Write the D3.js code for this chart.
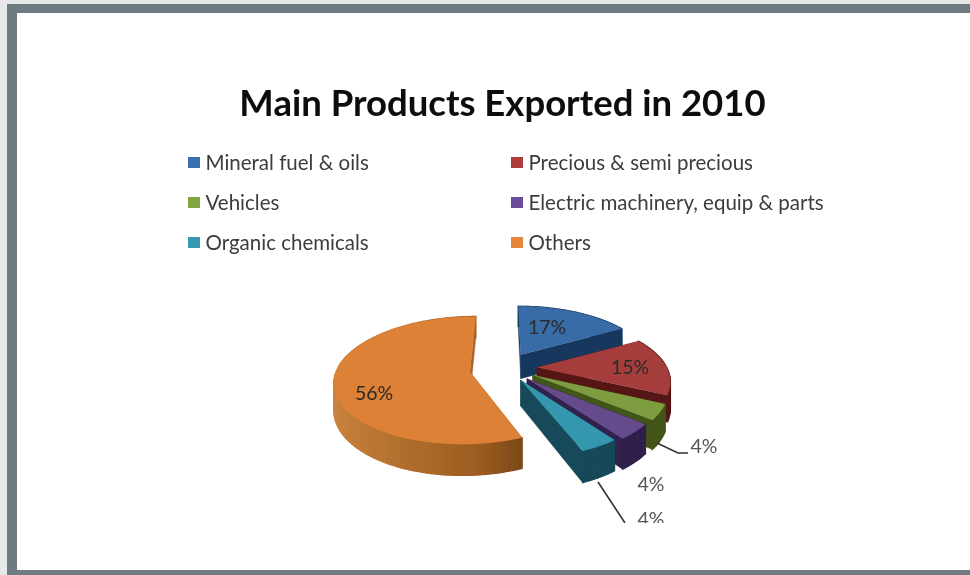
<!DOCTYPE html>
<html><head><meta charset="utf-8">
<script src="https://cdn.jsdelivr.net/npm/d3@7"></script>
<style>html,body{margin:0;padding:0;background:#fff;overflow:hidden}svg{display:block}</style>
</head><body><svg id="c" width="970" height="575"></svg>
<script>
const categories=["Mineral fuel & oils","Precious & semi precious","Vehicles","Electric machinery, equip & parts","Organic chemicals","Others"];
const shares=[17,15,4,4,4,56];
const percentLabels=["17%","15%","4%","4%","4%","56%"];
const topColors=["#386ca6","#a63e3c","#7e9d3f","#654b8b","#3497ad","#dc8135"];
const wallColors=["#17395f","#561414","#43561a","#30204c","#17485a","#a8642a"];
const legendColors=["#3a6fb0","#b03a3a","#83a53f","#6a4c9c","#3599b3","#e5853a"];

const W=970,H=575;
const svg=d3.select("#c");
const defs=svg.append("defs");
defs.append("filter").attr("id","soft").append("feGaussianBlur").attr("stdDeviation",0.6);
defs.append("clipPath").attr("id","crop").append("rect").attr("x",0).attr("y",0).attr("width",W).attr("height",523);

// frame
svg.append("rect").attr("width",W).attr("height",H).attr("fill","#e6e8ea");
svg.append("rect").attr("x",7).attr("y",4).attr("width",W-7).attr("height",H-4).attr("fill","#6e7b83");
svg.append("rect").attr("x",17).attr("y",13).attr("width",W-17).attr("height",557).attr("fill","#fff");

const root=svg.append("g").attr("filter","url(#soft)");
const font="Lato, 'Open Sans', sans-serif";

root.append("text").attr("x",502.5).attr("y",116).attr("text-anchor","middle")
  .attr("font-family",font).attr("font-weight",700).attr("font-size",36.5).attr("fill","#0a0a0a")
  .text("Main Products Exported in 2010");

// legend: two columns, three rows
const colX=d3.scaleOrdinal().domain([0,1]).range([188,511]);
const rowY=d3.scalePoint().domain([0,1,2]).range([162.5,242.5]);
const lg=root.selectAll("g.lg").data(categories).join("g").attr("class","lg")
  .attr("transform",(d,i)=>`translate(${colX(i%2)},${rowY(Math.floor(i/2))})`);
lg.append("rect").attr("x",0).attr("y",-5.5).attr("width",12).attr("height",11).attr("fill",(d,i)=>legendColors[i]);
lg.append("text").attr("x",17.5).attr("y",7).attr("font-family",font).attr("font-size",20.5).attr("fill","#3c3c3c").text(d=>d);

// 3D pie: ground plane projected through a simple perspective
const cx=505,cy=369,R=130,dist=690,tilt=0.46,depth=25;
const explodeBy=[32,32,32,31,31,35];
const radiusBy=[1.02,1,0.99,0.98,0.97,1.01];
const nudgeY=[-3,-1,-2,-1,-2,-4];
const apexDrop=[2,0,0,0,0,8];
const persp=Y=>dist/(dist-Y);
const project=(X,Y,drop=0,ny=0)=>{const s=persp(Y);return [cx+X*s,cy+ny+(tilt*Y+drop)*s];};
const pie=d3.pie().sort(null).value(d=>d)(shares);
const line=d3.line();
const wallShade=d3.scaleLinear().domain([-130,-20,50]).range(["#c27c38","#9b5c20","#5a3310"]);

const slices=pie.map((p,i)=>{
  const mid=(p.startAngle+p.endAngle)/2;
  const ox=explodeBy[i]*Math.sin(mid), oy=-explodeBy[i]*Math.cos(mid);
  const n=Math.max(4,Math.ceil((p.endAngle-p.startAngle)/0.03));
  const angle=d3.scaleLinear().domain([0,n]).range([p.startAngle,p.endAngle]);
  const r=R*radiusBy[i];
  const rim=d3.range(n+1).map(k=>{const a=angle(k);return [ox+r*Math.sin(a),oy-r*Math.cos(a)];});
  return {i,ox,oy:oy,apexY:oy+apexDrop[i],rim,ny:nudgeY[i]};
});

function drawSlice(s){
  const g=root.append("g");
  const P=(pt,drop)=>project(pt[0],pt[1],drop,s.ny);
  const apex=[s.ox,s.apexY];
  const quads=[];
  const addQuad=(a,b,color,w)=>quads.push({pts:[P(a,0),P(b,0),P(b,depth),P(a,depth)],color,w,key:(a[1]+b[1])/2});
  addQuad(apex,s.rim[0],wallColors[s.i],0.4);
  addQuad(apex,s.rim[s.rim.length-1],wallColors[s.i],0.4);
  d3.pairs(s.rim).forEach(([a,b])=>addQuad(a,b,s.i===5?wallShade((a[0]+b[0])/2):wallColors[s.i],1.2));
  quads.sort((a,b)=>a.key-b.key);
  g.selectAll("path.w").data(quads).join("path").attr("class","w")
    .attr("d",q=>line(q.pts)+"Z").attr("fill",q=>q.color).attr("stroke",q=>q.color).attr("stroke-width",q=>q.w);
  g.append("path").attr("d",line([apex,...s.rim].map(p=>P(p,0)))+"Z").attr("fill",topColors[s.i]);
}
[5,0,1,2,3,4].forEach(i=>drawSlice(slices[i]));

// data labels
const labelPos=[[547,327],[630,367],[704,446],[651,484],[651,519],[374,393]];
const lab=root.append("g").attr("clip-path","url(#crop)");
lab.selectAll("text").data(percentLabels).join("text")
  .attr("x",(d,i)=>labelPos[i][0]).attr("y",(d,i)=>labelPos[i][1]+6.5)
  .attr("text-anchor","middle").attr("font-family",font).attr("font-size",19.5)
  .attr("fill",(d,i)=>(i<2||i===5)?"#2a2a2a":"#555").text(d=>d);
const leaders=[[[657,443],[678,453],[688,453]],[[598,482],[625,523]]];
lab.selectAll("path").data(leaders).join("path").attr("d",d=>line(d)).attr("fill","none").attr("stroke","#333").attr("stroke-width",1.6);
</script></body></html>
